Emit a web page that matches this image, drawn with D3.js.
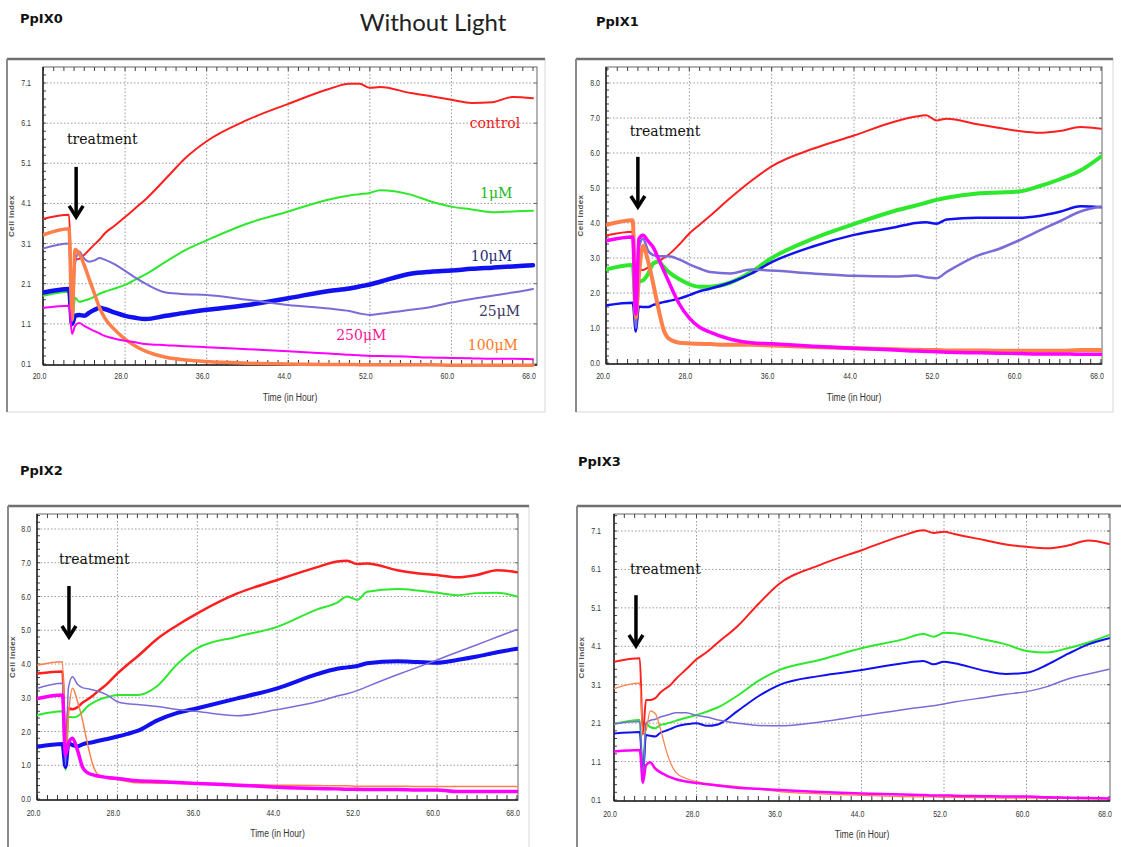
<!DOCTYPE html>
<html><head><meta charset="utf-8">
<script src="https://cdn.jsdelivr.net/npm/d3@7"></script>
<style>body{margin:0;background:#fff}svg{display:block}</style>
</head><body><svg id="c" width="1121" height="847"></svg>
<script>
// ---------- data ----------
const time = [20, 22.5, 22.8, 23.1, 23.5, 24, 24.5, 25, 25.5, 26, 27, 28, 29, 30, 32, 34, 36, 40, 44, 48, 50, 51, 52, 53, 56, 58, 60, 62, 64, 66, 68];
const seriesNames = ["control", "1μM", "10μM", "25μM", "100μM", "250μM"];
const seriesColors = ["#ff1f1f", "#2ee82e", "#1010f0", "#7a6cd8", "#ff7f4a", "#ff00ff"];
const xTicks = [20, 28, 36, 44, 52, 60, 68];
const yTicksA = [0.1, 1.1, 2.1, 3.1, 4.1, 5.1, 6.1, 7.1];
const yTicksB = [0, 1, 2, 3, 4, 5, 6, 7, 8];
const panelTitles = ["PpIX0", "PpIX1", "PpIX2", "PpIX3"];
const mainTitle = "Without Light";

const ppix0_control = [3.72, 3.82, 1.9, 2.7, 2.72, 2.82, 2.95, 3.08, 3.2, 3.35, 3.55, 3.76, 3.98, 4.2, 4.72, 5.25, 5.65, 6.18, 6.58, 6.95, 7.08, 7.08, 6.98, 7.0, 6.85, 6.77, 6.68, 6.6, 6.62, 6.75, 6.72];
const ppix0_1uM = [1.8, 1.9, 1.05, 1.75, 1.65, 1.68, 1.72, 1.78, 1.85, 1.9, 1.98, 2.07, 2.2, 2.33, 2.65, 2.95, 3.18, 3.6, 3.9, 4.2, 4.3, 4.33, 4.36, 4.43, 4.32, 4.15, 4.02, 3.95, 3.88, 3.9, 3.92];
const ppix0_10uM = [1.88, 1.97, 1.1, 1.3, 1.32, 1.3, 1.38, 1.45, 1.5, 1.47, 1.38, 1.3, 1.25, 1.22, 1.3, 1.38, 1.45, 1.57, 1.74, 1.92, 1.98, 2.03, 2.08, 2.15, 2.35, 2.4, 2.43, 2.47, 2.5, 2.53, 2.56];
const ppix0_25uM = [2.98, 3.1, 1.15, 2.6, 2.9, 2.72, 2.65, 2.68, 2.74, 2.7, 2.58, 2.42, 2.25, 2.1, 1.88, 1.84, 1.82, 1.7, 1.57, 1.48, 1.42, 1.36, 1.32, 1.35, 1.45, 1.52, 1.63, 1.72, 1.8, 1.88, 1.97];
const ppix0_100uM = [3.32, 3.47, 1.2, 2.95, 2.85, 2.56, 2.2, 1.85, 1.5, 1.25, 0.95, 0.72, 0.55, 0.42, 0.27, 0.2, 0.16, 0.12, 0.1, 0.09, 0.09, 0.08, 0.08, 0.08, 0.08, 0.08, 0.07, 0.07, 0.07, 0.07, 0.07];
const ppix0_250uM = [1.5, 1.55, 0.85, 1.05, 1.12, 1.05, 0.98, 0.92, 0.86, 0.8, 0.73, 0.68, 0.64, 0.6, 0.57, 0.54, 0.52, 0.47, 0.42, 0.36, 0.33, 0.32, 0.3, 0.3, 0.28, 0.26, 0.25, 0.24, 0.23, 0.23, 0.22];

const ppix1_control = [3.65, 3.75, 1.5, 2.66, 2.66, 2.73, 2.82, 2.9, 3.0, 3.1, 3.38, 3.7, 3.95, 4.2, 4.72, 5.2, 5.62, 6.12, 6.5, 6.9, 7.04, 7.08, 6.93, 6.98, 6.82, 6.72, 6.63, 6.58, 6.63, 6.74, 6.69];
const ppix1_1uM = [2.68, 2.8, 1.5, 2.32, 2.36, 2.55, 2.85, 2.9, 2.75, 2.6, 2.4, 2.25, 2.18, 2.18, 2.3, 2.6, 3.0, 3.55, 3.97, 4.35, 4.5, 4.58, 4.66, 4.72, 4.84, 4.87, 4.9, 5.05, 5.25, 5.5, 5.9];
const ppix1_10uM = [1.65, 1.72, 0.9, 1.61, 1.6, 1.6, 1.66, 1.7, 1.74, 1.77, 1.84, 1.94, 2.05, 2.12, 2.3, 2.55, 2.88, 3.33, 3.66, 3.88, 4.0, 4.02, 3.98, 4.1, 4.15, 4.15, 4.15, 4.2, 4.32, 4.48, 4.45];
const ppix1_25uM = [3.5, 3.6, 1.0, 3.3, 3.55, 3.2, 3.08, 3.05, 3.05, 3.05, 2.96, 2.82, 2.7, 2.6, 2.56, 2.67, 2.64, 2.56, 2.49, 2.47, 2.5, 2.45, 2.42, 2.6, 3.07, 3.25, 3.5, 3.78, 4.05, 4.33, 4.47];
const ppix1_100uM = [3.95, 4.08, 1.3, 2.5, 3.35, 2.9, 2.25, 1.55, 0.95, 0.7, 0.58, 0.56, 0.55, 0.54, 0.52, 0.52, 0.5, 0.46, 0.42, 0.39, 0.38, 0.37, 0.37, 0.36, 0.36, 0.35, 0.35, 0.35, 0.35, 0.37, 0.37];
const ppix1_250uM = [3.5, 3.6, 1.4, 3.55, 3.65, 3.48, 3.3, 2.98, 2.65, 2.32, 1.7, 1.28, 1.02, 0.88, 0.68, 0.58, 0.55, 0.48, 0.42, 0.37, 0.34, 0.33, 0.32, 0.31, 0.29, 0.28, 0.27, 0.26, 0.26, 0.25, 0.25];

const ppix2_control = [3.72, 3.78, 1.3, 2.69, 2.66, 2.72, 2.85, 2.95, 3.05, 3.18, 3.42, 3.72, 3.98, 4.22, 4.75, 5.15, 5.5, 6.09, 6.49, 6.87, 7.04, 7.06, 6.96, 6.98, 6.78, 6.69, 6.64, 6.57, 6.64, 6.78, 6.72];
const ppix2_1uM = [2.49, 2.6, 0.85, 2.44, 2.42, 2.45, 2.58, 2.74, 2.84, 2.92, 3.02, 3.08, 3.08, 3.08, 3.35, 4.0, 4.47, 4.81, 5.1, 5.62, 5.82, 6.0, 5.9, 6.14, 6.22, 6.18, 6.11, 6.04, 6.1, 6.11, 6.0];
const ppix2_10uM = [1.55, 1.63, 0.95, 1.65, 1.6, 1.56, 1.62, 1.66, 1.68, 1.72, 1.78, 1.85, 1.93, 2.02, 2.33, 2.55, 2.69, 2.98, 3.28, 3.7, 3.86, 3.9, 3.94, 4.02, 4.08, 4.06, 4.04, 4.12, 4.22, 4.35, 4.45];
const ppix2_25uM = [3.28, 3.43, 1.0, 3.3, 3.62, 3.4, 3.3, 3.27, 3.24, 3.2, 3.08, 2.88, 2.82, 2.8, 2.74, 2.65, 2.59, 2.47, 2.65, 2.88, 3.05, 3.12, 3.21, 3.33, 3.68, 3.9, 4.12, 4.35, 4.57, 4.8, 5.02];
const ppix2_100uM = [3.97, 4.07, 1.3, 2.5, 3.28, 2.9, 2.34, 1.65, 1.05, 0.74, 0.61, 0.57, 0.52, 0.48, 0.47, 0.46, 0.45, 0.43, 0.41, 0.4, 0.39, 0.39, 0.38, 0.38, 0.38, 0.37, 0.37, 0.37, 0.37, 0.37, 0.37];
const ppix2_250uM = [2.98, 3.08, 1.3, 1.65, 1.8, 1.45, 0.95, 0.78, 0.72, 0.68, 0.64, 0.61, 0.57, 0.54, 0.52, 0.49, 0.46, 0.41, 0.35, 0.31, 0.3, 0.29, 0.29, 0.28, 0.28, 0.27, 0.27, 0.22, 0.22, 0.22, 0.22];

const ppix3_control = [3.7, 3.79, 1.8, 2.7, 2.7, 2.75, 2.9, 3.0, 3.1, 3.25, 3.5, 3.76, 3.95, 4.18, 4.63, 5.2, 5.72, 6.22, 6.6, 6.98, 7.12, 7.05, 7.08, 7.02, 6.86, 6.75, 6.69, 6.65, 6.72, 6.85, 6.76];
const ppix3_1uM = [2.08, 2.18, 0.7, 2.1, 2.0, 1.97, 2.05, 2.08, 2.12, 2.16, 2.24, 2.31, 2.4, 2.5, 2.82, 3.2, 3.48, 3.75, 4.05, 4.28, 4.42, 4.35, 4.45, 4.44, 4.27, 4.15, 3.98, 3.94, 4.05, 4.2, 4.39];
const ppix3_10uM = [1.83, 1.87, 0.7, 1.79, 1.77, 1.75, 1.85, 1.9, 1.95, 2.01, 2.07, 2.1, 2.03, 2.06, 2.42, 2.8, 3.09, 3.33, 3.48, 3.66, 3.72, 3.63, 3.7, 3.66, 3.46, 3.38, 3.41, 3.62, 3.9, 4.15, 4.31];
const ppix3_25uM = [2.08, 2.14, 0.6, 2.1, 2.17, 2.2, 2.26, 2.3, 2.34, 2.37, 2.37, 2.3, 2.26, 2.19, 2.1, 2.04, 2.03, 2.13, 2.29, 2.45, 2.52, 2.55, 2.6, 2.65, 2.77, 2.85, 2.92, 3.05, 3.25, 3.38, 3.5];
const ppix3_100uM = [3.0, 3.14, 1.85, 1.9, 2.42, 2.35, 1.95, 1.45, 1.05, 0.82, 0.66, 0.58, 0.53, 0.5, 0.45, 0.38, 0.32, 0.26, 0.22, 0.19, 0.18, 0.18, 0.17, 0.17, 0.16, 0.15, 0.15, 0.14, 0.14, 0.13, 0.13];
const ppix3_250uM = [1.36, 1.4, 0.55, 1.0, 1.08, 0.92, 0.82, 0.75, 0.69, 0.64, 0.58, 0.54, 0.51, 0.48, 0.42, 0.39, 0.36, 0.31, 0.27, 0.24, 0.23, 0.22, 0.22, 0.21, 0.2, 0.19, 0.19, 0.17, 0.16, 0.15, 0.14];

// ---------- layout ----------
const panels = [
  { title: panelTitles[0], data: [ppix0_control, ppix0_1uM, ppix0_10uM, ppix0_25uM, ppix0_100uM, ppix0_250uM],
    yTicks: yTicksA, fmt: ".1f", yDom: [0.1, 7.1], yRng: [364, 83], xRng: [43.5, 533],
    plot: [43, 537, 67, 365], frame: [7, 545, 59, 412], titlePos: [20, 23],
    widths: [2, 2, 4.5, 2, 3.5, 2], ylabGap: 12, xlabDy: 14, cellDx: 29, timeDy: 36,
    treat: { tx: 22.3, ty: 5.59, ax: 23.2, ay0: 5.01, ay1: 3.74 }, labels: true },
  { title: panelTitles[1], data: [ppix1_control, ppix1_1uM, ppix1_10uM, ppix1_25uM, ppix1_100uM, ppix1_250uM],
    yTicks: yTicksB, fmt: ".1f", yDom: [0, 8], yRng: [363, 83], xRng: [607, 1101],
    plot: [606, 1102, 67, 364], frame: [576, 1113, 59, 412], titlePos: [596, 26],
    widths: [2, 4, 2.5, 2.5, 4, 3.5], ylabGap: 6, xlabDy: 15, cellDx: 23, timeDy: 37,
    treat: { tx: 22.2, ty: 6.49, ax: 23.0, ay0: 5.89, ay1: 4.43 } },
  { title: panelTitles[2], data: [ppix2_control, ppix2_1uM, ppix2_10uM, ppix2_25uM, ppix2_100uM, ppix2_250uM],
    yTicks: yTicksB, fmt: ".1f", yDom: [0, 8], yRng: [799, 529], xRng: [37.5, 517],
    plot: [37, 518, 514, 800], frame: [8, 529, 506, 860], titlePos: [20, 475],
    widths: [2.5, 2, 4, 1.5, 1.5, 3.5], ylabGap: 6, xlabDy: 16, cellDx: 22, timeDy: 37,
    treat: { tx: 22.15, ty: 6.96, ax: 23.15, ay0: 6.31, ay1: 4.77 } },
  { title: panelTitles[3], data: [ppix3_control, ppix3_1uM, ppix3_10uM, ppix3_25uM, ppix3_100uM, ppix3_250uM],
    yTicks: yTicksA, fmt: ".1f", yDom: [0.1, 7.1], yRng: [800, 531], xRng: [614, 1109],
    plot: [614, 1110, 514, 801], frame: [577, 1140, 506, 860], titlePos: [578, 466],
    widths: [2, 2, 2, 1.5, 1.2, 2.5], ylabGap: 13, xlabDy: 16, cellDx: 30, timeDy: 37,
    treat: { tx: 21.55, ty: 5.98, ax: 22.13, ay0: 5.43, ay1: 4.08 } }
];

// annotation anchors for the first panel (data coordinates)
const seriesLabelPos = [[61.8, 5.99], [62.8, 4.24], [61.9, 2.67], [62.7, 1.30], [61.6, 0.45], [48.7, 0.70]];
const seriesLabelColors = ["#f01818", "#22b822", "#1f2d7a", "#3a3663", "#ff7a22", "#ff1493"];

const svg = d3.select("#c");
svg.append("text").attr("x", 433).attr("y", 31).attr("text-anchor", "middle")
  .style("font-family", "Lato, 'Open Sans', sans-serif").style("font-size", "24px").attr("fill", "#222")
  .text(mainTitle);

const tickFont = "'Liberation Sans', Arial, sans-serif";
const squeeze = 0.78;

panels.forEach((p, pi) => {
  const g = svg.append("g");
  const [fx0, fx1, fy0, fy1] = p.frame;
  const [px0, px1, py0, py1] = p.plot;
  const x = d3.scaleLinear().domain([20, 68]).range(p.xRng);
  const y = d3.scaleLinear().domain(p.yDom).range(p.yRng);

  // title
  g.append("text").attr("x", p.titlePos[0]).attr("y", p.titlePos[1])
    .style("font-family", "'DejaVu Sans', sans-serif").style("font-weight", "bold").style("font-size", "13px")
    .attr("fill", "#111").text(p.title);

  // frame
  g.append("rect").attr("x", fx0).attr("y", fy0).attr("width", fx1 - fx0).attr("height", fy1 - fy0)
    .attr("fill", "#fff").attr("stroke", "#d8d8d8").attr("stroke-width", 1);
  g.append("line").attr("x1", fx0).attr("x2", fx1).attr("y1", fy0).attr("y2", fy0).attr("stroke", "#707070").attr("stroke-width", 2.5);
  g.append("line").attr("x1", fx0).attr("x2", fx0).attr("y1", fy0).attr("y2", fy1).attr("stroke", "#8a8a8a").attr("stroke-width", 2);

  // plot area
  g.append("rect").attr("x", px0).attr("y", py0).attr("width", px1 - px0).attr("height", py1 - py0)
    .attr("fill", "#fff").attr("stroke", "#666").attr("stroke-width", 1);

  // gridlines
  g.selectAll(".vg").data(xTicks.slice(1, -1)).enter().append("line")
    .attr("x1", d => x(d)).attr("x2", d => x(d)).attr("y1", py0).attr("y2", py1)
    .attr("stroke", "#9a9a9a").attr("stroke-width", 1).attr("stroke-dasharray", "1.5,2");
  g.selectAll(".hg").data(p.yTicks.filter(v => y(v) < py1 - 2)).enter().append("line")
    .attr("x1", px0).attr("x2", px1).attr("y1", d => y(d)).attr("y2", d => y(d))
    .attr("stroke", "#9a9a9a").attr("stroke-width", 1).attr("stroke-dasharray", "1.5,2");

  // minor ticks
  const xMinor = d3.range(20, 69, 1);
  g.selectAll(".tt").data(xMinor).enter().append("line")
    .attr("x1", d => x(d)).attr("x2", d => x(d)).attr("y1", py0).attr("y2", py0 + 4)
    .attr("stroke", "#444").attr("stroke-width", 1);
  g.selectAll(".bt").data(xMinor).enter().append("line")
    .attr("x1", d => x(d)).attr("x2", d => x(d)).attr("y1", py1).attr("y2", py1 - 5)
    .attr("stroke", "#333").attr("stroke-width", 1);
  const yMinor = d3.range(p.yDom[0], (p.yDom[1] - p.yDom[0]) * 1.07 + p.yDom[0], 0.2).filter(v => y(v) > py0 + 1);
  g.selectAll(".lt").data(yMinor).enter().append("line")
    .attr("x1", px0).attr("x2", px0 + 3).attr("y1", d => y(d)).attr("y2", d => y(d))
    .attr("stroke", "#444").attr("stroke-width", 1);
  g.selectAll(".rt").data(p.yTicks).enter().append("line")
    .attr("x1", px1).attr("x2", px1 - 3).attr("y1", d => y(d)).attr("y2", d => y(d))
    .attr("stroke", "#666").attr("stroke-width", 1);

  // axis lines
  g.append("line").attr("x1", px0).attr("x2", px0).attr("y1", py0).attr("y2", py1).attr("stroke", "#222").attr("stroke-width", 1.5);
  g.append("line").attr("x1", px0).attr("x2", px1).attr("y1", py1).attr("y2", py1).attr("stroke", "#222").attr("stroke-width", 1.5);

  // tick labels (condensed)
  g.selectAll(".xl").data(xTicks).enter().append("text")
    .attr("transform", d => `translate(${x(d) - 4},${py1 + p.xlabDy}) scale(${squeeze},1)`)
    .attr("text-anchor", "middle")
    .style("font-family", tickFont).style("font-size", "9px").attr("fill", "#333")
    .text(d => d3.format(".1f")(d));
  g.selectAll(".yl").data(p.yTicks).enter().append("text")
    .attr("transform", d => `translate(${px0 - p.ylabGap},${y(d) + 3}) scale(${squeeze},1)`)
    .attr("text-anchor", "end")
    .style("font-family", tickFont).style("font-size", "9px").attr("fill", "#333")
    .text(d => d3.format(p.fmt)(d));

  // axis titles
  g.append("text").attr("transform", `translate(${(px0 + px1) / 2},${py1 + p.timeDy}) scale(${squeeze},1)`)
    .attr("text-anchor", "middle")
    .style("font-family", tickFont).style("font-size", "11px").attr("fill", "#333").text("Time (in Hour)");
  g.append("text").attr("transform", `translate(${px0 - p.cellDx},${(py0 + py1) / 2}) rotate(-90)`)
    .attr("text-anchor", "middle").style("font-family", "'Liberation Sans', sans-serif").style("font-weight", "bold")
    .style("font-size", "8px").style("letter-spacing", "0.4px").attr("fill", "#555").text("Cell Index");

  // lines
  const clipId = "clip" + pi;
  g.append("clipPath").attr("id", clipId).append("rect")
    .attr("x", px0).attr("y", py0).attr("width", px1 - px0).attr("height", py1 - py0 + 2);
  const line = d3.line().x((d, i) => x(time[i])).y(d => y(d)).curve(d3.curveMonotoneX);
  const lg = g.append("g").attr("clip-path", `url(#${clipId})`);
  p.data.forEach((s, si) => {
    lg.append("path").datum(s).attr("d", line).attr("fill", "none")
      .attr("stroke", seriesColors[si]).attr("stroke-width", p.widths[si])
      .attr("stroke-linejoin", "round").attr("stroke-linecap", "round");
  });

  // treatment annotation
  const serif = "'DejaVu Serif', 'Liberation Serif', serif";
  g.append("text").attr("x", x(p.treat.tx)).attr("y", y(p.treat.ty))
    .style("font-family", serif).style("font-size", "14px").attr("fill", "#111").text("treatment");
  const ax = x(p.treat.ax), ay0 = y(p.treat.ay0), ay1 = y(p.treat.ay1);
  g.append("path").attr("d", `M${ax},${ay0}L${ax},${ay1 - 2}`).attr("stroke", "#000").attr("stroke-width", 3.5).attr("fill", "none");
  g.append("path").attr("d", `M${ax - 7},${ay1 - 12}L${ax},${ay1 - 1}L${ax + 7},${ay1 - 12}`)
    .attr("stroke", "#000").attr("stroke-width", 3.5).attr("fill", "none").attr("stroke-linejoin", "miter");

  if (p.labels) {
    seriesNames.forEach((n, i) => {
      g.append("text").attr("x", x(seriesLabelPos[i][0])).attr("y", y(seriesLabelPos[i][1]))
        .style("font-family", serif).style("font-size", "14px").attr("fill", seriesLabelColors[i]).text(n);
    });
  }
});
</script>
</body></html>
